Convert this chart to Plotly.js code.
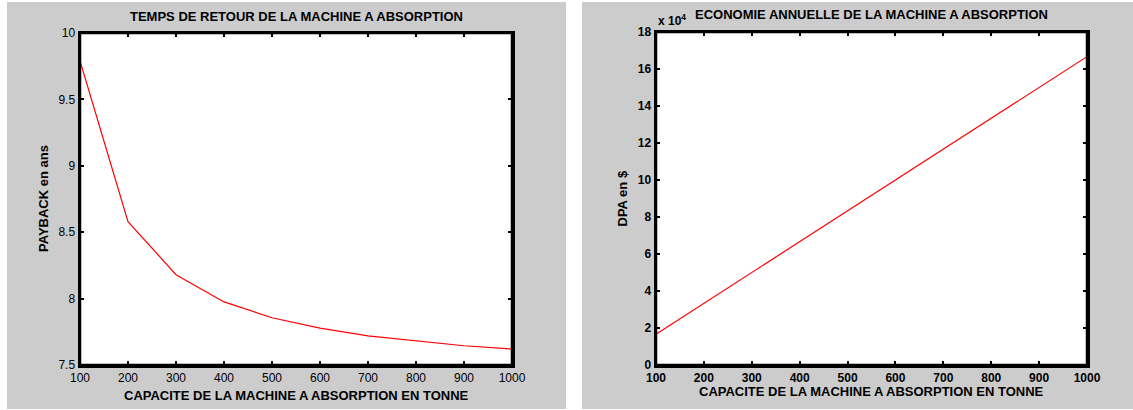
<!DOCTYPE html>
<html>
<head>
<meta charset="utf-8">
<script src="https://cdn.plot.ly/plotly-3.0.1.min.js"></script>
<style>
  html, body { margin:0; padding:0; background:#ffffff; width:1133px; height:410px; overflow:hidden; }
  #left { position:absolute; left:7px; top:2px; width:559px; height:407px; }
  #right { position:absolute; left:582px; top:2px; width:551px; height:407px; }
</style>
</head>
<body>
<div id="left"></div>
<div id="right"></div>
<script>
// ---- data ----
var capacite = [100, 200, 300, 400, 500, 600, 700, 800, 900, 1000];
var payback = [9.79, 8.58, 8.18, 7.975, 7.856, 7.777, 7.72, 7.68, 7.645, 7.62];
var dpa = [16670, 33330, 50000, 66670, 83330, 100000, 116670, 133330, 150000, 166670];
var dpaTickVals = [0, 20000, 40000, 60000, 80000, 100000, 120000, 140000, 160000, 180000];
var dpaTickText = ["0", "2", "4", "6", "8", "10", "12", "14", "16", "18"];
var xTicks = [100, 200, 300, 400, 500, 600, 700, 800, 900, 1000];

var titleLeft = "TEMPS DE RETOUR DE LA MACHINE A ABSORPTION";
var titleRight = "ECONOMIE ANNUELLE DE LA MACHINE A ABSORPTION";
var xTitle = "CAPACITE DE LA MACHINE A ABSORPTION EN TONNE";
var yTitleLeft = "PAYBACK en ans";
var yTitleRight = "DPA en $";

var FONT = "Liberation Sans, Arial, sans-serif";
var GRAY = "#cccccc";

function axisBase(bold) {
  return {
    showline: true, linecolor: "#000", linewidth: 2.5, mirror: "ticks",
    ticks: "inside", ticklen: 4, tickwidth: 2, tickcolor: "#000",
    showgrid: false, zeroline: false,
    tickfont: { family: FONT, size: 12, color: "#000", weight: bold ? "bold" : "normal" }
  };
}

function ann(text, x, y, opts) {
  var a = { text: text, xref: "paper", yref: "paper", x: x, y: y, showarrow: false,
            xanchor: "center", yanchor: "middle",
            font: { family: FONT, size: 13, color: "#000", weight: "bold" } };
  for (var k in opts) a[k] = opts[k];
  return a;
}

var boxShape = { type: "rect", xref: "paper", yref: "paper", x0: 0, x1: 1, y0: 0, y1: 1,
                 line: { color: "#000", width: 2.5 }, fillcolor: "rgba(0,0,0,0)", layer: "above" };

// ---- left chart ----
var Lm = { l: 73, r: 54, t: 31, b: 44 };
var Lw = 559 - Lm.l - Lm.r, Lh = 407 - Lm.t - Lm.b;
var lx = Object.assign(axisBase(false), { range: [100, 1000], tickvals: xTicks });
var ly = Object.assign(axisBase(false), { range: [7.5, 10], dtick: 0.5 });
Plotly.newPlot("left", [{
  x: capacite, y: payback, type: "scatter", mode: "lines",
  line: { color: "#ff0000", width: 1.2 }, hoverinfo: "skip"
}], {
  width: 559, height: 407, margin: Lm,
  paper_bgcolor: GRAY, plot_bgcolor: "#ffffff", showlegend: false,
  xaxis: lx, yaxis: ly,
  shapes: [boxShape],
  annotations: [
    ann(titleLeft, 0.5, 1 + 17 / Lh),
    ann(xTitle, 0.5, -30 / Lh),
    ann(yTitleLeft, -37 / Lw, 0.5, { textangle: -90 })
  ]
}, { staticPlot: true });

// ---- right chart ----
var Rm = { l: 74, r: 46, t: 30, b: 44 };
var Rw = 551 - Rm.l - Rm.r, Rh = 407 - Rm.t - Rm.b;
var rx = Object.assign(axisBase(true), { range: [100, 1000], tickvals: xTicks });
var ry = Object.assign(axisBase(true), { range: [0, 180000], tickvals: dpaTickVals, ticktext: dpaTickText });
Plotly.newPlot("right", [{
  x: capacite, y: dpa, type: "scatter", mode: "lines",
  line: { color: "#ff0000", width: 1.2 }, hoverinfo: "skip"
}], {
  width: 551, height: 407, margin: Rm,
  paper_bgcolor: GRAY, plot_bgcolor: "#ffffff", showlegend: false,
  xaxis: rx, yaxis: ry,
  shapes: [boxShape],
  annotations: [
    ann(titleRight, 0.5, 1 + 18 / Rh),
    ann(xTitle, 0.5, -26 / Rh),
    ann(yTitleRight, -34 / Rw, 0.5, { textangle: -90 }),
    ann("x 10<sup>4</sup>", 0, 1 + 12 / Rh, { xanchor: "left", font: { family: FONT, size: 12, color: "#000", weight: "bold" } })
  ]
}, { staticPlot: true });
</script>
</body>
</html>
